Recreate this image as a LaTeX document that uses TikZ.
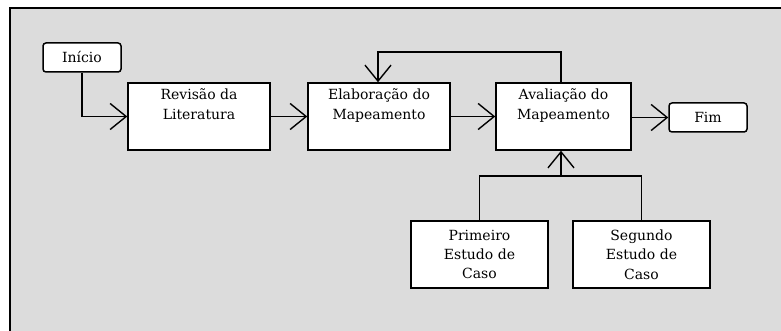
\documentclass[tikz,border=0pt]{standalone}
\usepackage{fontspec}
\setmainfont{DejaVu Serif}
\usetikzlibrary{arrows.meta}
\definecolor{bg}{HTML}{DCDCDC}
\tikzset{
  box/.style={draw=black, fill=white, line width=1.5pt, minimum width=142pt, minimum height=67pt, align=center, inner sep=0pt, font=\fontsize{14}{19.3}\selectfont},
  term/.style={draw=black, fill=white, line width=1.5pt, rounded corners=3pt, minimum width=78pt, minimum height=29pt, inner sep=0pt, font=\fontsize{14}{16}\selectfont},
  arr/.style={line width=1.4pt, -{Straight Barb[length=16pt,width=26pt,line width=1.4pt]}},
  link/.style={line width=1.4pt}
}
\begin{document}
\begin{tikzpicture}[x=1pt,y=-1pt]
\useasboundingbox (0,0) rectangle (781,331);
\clip (0,0) rectangle (781,331);
\fill[white] (0,0) rectangle (781,331);
\draw[fill=bg, line width=2pt] (10,8) rectangle (800,350);
\node[term] (inicio) at (82,57.5) {Início};
\node[box] (rev) at (199,116.5) {Revisão da\\Literatura\\\strut};
\node[box] (elab) at (379,116.5) {Elaboração do\\Mapeamento\\\strut};
\node[box, minimum width=135pt] (aval) at (563.5,116.5) {Avaliação do\\Mapeamento\\\strut};
\node[term] (fim) at (708,117.5) {Fim};
\node[box, minimum width=137pt] (prim) at (479.5,254.5) {Primeiro\\Estudo de\\Caso};
\node[box, minimum width=137pt] (seg) at (641.5,254.5) {Segundo\\Estudo de\\Caso};
\coordinate (top) at (378,52);
\coordinate (join) at (561,176);
\draw[arr] (inicio.south) |- (rev.west);
\draw[arr] (rev.east) -- (elab.west);
\draw[arr] (elab.east) -- (aval.west);
\draw[arr] (aval.east |- fim.west) -- (fim.west);
\draw[arr] ([xshift=-2.5pt]aval.north) |- (top) -- (top |- elab.north);
\draw[link] (prim.north) |- (join) -| (seg.north);
\draw[arr] (join) -- (join |- aval.south);
\end{tikzpicture}
\end{document}
